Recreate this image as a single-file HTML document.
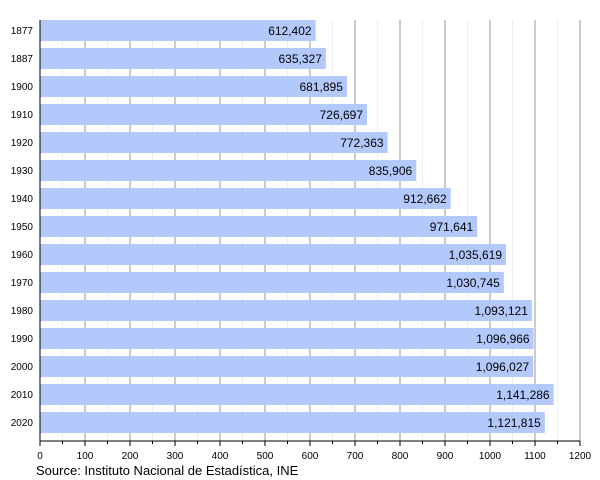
<!DOCTYPE html>
<html><head><style>body{margin:0;background:#fff}svg{display:block}</style></head><body>
<svg width="600" height="480" xmlns="http://www.w3.org/2000/svg" font-family="Liberation Sans, sans-serif">
<g stroke="#eee">
<line x1="62.5" y1="20" x2="62.5" y2="441"/><line x1="107.5" y1="20" x2="107.5" y2="441"/><line x1="152.5" y1="20" x2="152.5" y2="441"/><line x1="197.5" y1="20" x2="197.5" y2="441"/><line x1="242.5" y1="20" x2="242.5" y2="441"/><line x1="287.5" y1="20" x2="287.5" y2="441"/><line x1="332.5" y1="20" x2="332.5" y2="441"/><line x1="377.5" y1="20" x2="377.5" y2="441"/><line x1="422.5" y1="20" x2="422.5" y2="441"/><line x1="467.5" y1="20" x2="467.5" y2="441"/><line x1="512.5" y1="20" x2="512.5" y2="441"/><line x1="557.5" y1="20" x2="557.5" y2="441"/>
</g>
<g stroke="#999">
<line x1="85" y1="20" x2="85" y2="441"/><line x1="130" y1="20" x2="130" y2="441"/><line x1="175" y1="20" x2="175" y2="441"/><line x1="220" y1="20" x2="220" y2="441"/><line x1="265" y1="20" x2="265" y2="441"/><line x1="310" y1="20" x2="310" y2="441"/><line x1="355" y1="20" x2="355" y2="441"/><line x1="400" y1="20" x2="400" y2="441"/><line x1="445" y1="20" x2="445" y2="441"/><line x1="490" y1="20" x2="490" y2="441"/><line x1="535" y1="20" x2="535" y2="441"/><line x1="580" y1="20" x2="580" y2="441"/>
</g>
<g fill="#b3c9fc">
<rect x="40" y="20" width="275.6" height="21"/>
<rect x="40" y="48" width="285.9" height="21"/>
<rect x="40" y="76" width="306.9" height="21"/>
<rect x="40" y="104" width="327" height="21"/>
<rect x="40" y="132" width="347.6" height="21"/>
<rect x="40" y="160" width="376.2" height="21"/>
<rect x="40" y="188" width="410.7" height="21"/>
<rect x="40" y="216" width="437.2" height="21"/>
<rect x="40" y="244" width="466" height="21"/>
<rect x="40" y="272" width="463.8" height="21"/>
<rect x="40" y="300" width="491.9" height="21"/>
<rect x="40" y="328" width="493.6" height="21"/>
<rect x="40" y="356" width="493.2" height="21"/>
<rect x="40" y="384" width="513.6" height="21"/>
<rect x="40" y="412" width="504.8" height="21"/>
</g>
<g font-size="12" text-anchor="end" fill="#000">
<text x="311.6" y="35">612,402</text>
<text x="321.9" y="63">635,327</text>
<text x="342.9" y="91">681,895</text>
<text x="363" y="119">726,697</text>
<text x="383.6" y="147">772,363</text>
<text x="412.2" y="175">835,906</text>
<text x="446.7" y="203">912,662</text>
<text x="473.2" y="231">971,641</text>
<text x="502" y="259">1,035,619</text>
<text x="499.8" y="287">1,030,745</text>
<text x="527.9" y="315">1,093,121</text>
<text x="529.6" y="343">1,096,966</text>
<text x="529.2" y="371">1,096,027</text>
<text x="549.6" y="399">1,141,286</text>
<text x="540.8" y="427">1,121,815</text>
</g>
<g font-size="10" text-anchor="end" fill="#000">
<text x="33" y="34">1877</text><text x="33" y="62">1887</text><text x="33" y="90">1900</text><text x="33" y="118">1910</text><text x="33" y="146">1920</text><text x="33" y="174">1930</text><text x="33" y="202">1940</text><text x="33" y="230">1950</text><text x="33" y="258">1960</text><text x="33" y="286">1970</text><text x="33" y="314">1980</text><text x="33" y="342">1990</text><text x="33" y="370">2000</text><text x="33" y="398">2010</text><text x="33" y="426">2020</text>
</g>
<g stroke="#000">
<line x1="40" y1="20" x2="40" y2="441"/><line x1="40" y1="441" x2="580" y2="441"/>
<line x1="40" y1="441" x2="40" y2="446"/><line x1="85" y1="441" x2="85" y2="446"/><line x1="130" y1="441" x2="130" y2="446"/><line x1="175" y1="441" x2="175" y2="446"/><line x1="220" y1="441" x2="220" y2="446"/><line x1="265" y1="441" x2="265" y2="446"/><line x1="310" y1="441" x2="310" y2="446"/><line x1="355" y1="441" x2="355" y2="446"/><line x1="400" y1="441" x2="400" y2="446"/><line x1="445" y1="441" x2="445" y2="446"/><line x1="490" y1="441" x2="490" y2="446"/><line x1="535" y1="441" x2="535" y2="446"/><line x1="580" y1="441" x2="580" y2="446"/>
<line x1="62.5" y1="441" x2="62.5" y2="444"/><line x1="107.5" y1="441" x2="107.5" y2="444"/><line x1="152.5" y1="441" x2="152.5" y2="444"/><line x1="197.5" y1="441" x2="197.5" y2="444"/><line x1="242.5" y1="441" x2="242.5" y2="444"/><line x1="287.5" y1="441" x2="287.5" y2="444"/><line x1="332.5" y1="441" x2="332.5" y2="444"/><line x1="377.5" y1="441" x2="377.5" y2="444"/><line x1="422.5" y1="441" x2="422.5" y2="444"/><line x1="467.5" y1="441" x2="467.5" y2="444"/><line x1="512.5" y1="441" x2="512.5" y2="444"/><line x1="557.5" y1="441" x2="557.5" y2="444"/>
</g>
<g font-size="10" text-anchor="middle" fill="#000">
<text x="40" y="459">0</text><text x="85" y="459">100</text><text x="130" y="459">200</text><text x="175" y="459">300</text><text x="220" y="459">400</text><text x="265" y="459">500</text><text x="310" y="459">600</text><text x="355" y="459">700</text><text x="400" y="459">800</text><text x="445" y="459">900</text><text x="490" y="459">1000</text><text x="535" y="459">1100</text><text x="580" y="459">1200</text>
</g>
<text x="36" y="475" font-size="13" fill="#000">Source: Instituto Nacional de Estadística, INE</text>
</svg>
</body></html>
